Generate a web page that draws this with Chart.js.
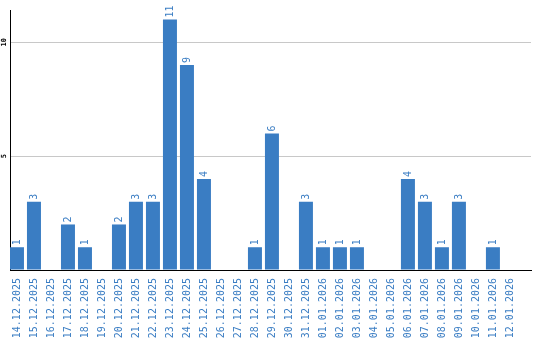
<!DOCTYPE html>
<html>
<head>
<meta charset="utf-8">
<script src="https://cdn.jsdelivr.net/npm/chart.js@4"></script>
<style>
html,body{margin:0;padding:0;background:#fff;}
#wrap{width:540px;height:340px;}
</style>
</head>
<body>
<div id="wrap"><canvas id="c" width="540" height="340"></canvas></div>
<script>
const categories = ["14.12.2025","15.12.2025","16.12.2025","17.12.2025","18.12.2025","19.12.2025","20.12.2025","21.12.2025","22.12.2025","23.12.2025","24.12.2025","25.12.2025","26.12.2025","27.12.2025","28.12.2025","29.12.2025","30.12.2025","31.12.2025","01.01.2026","02.01.2026","03.01.2026","04.01.2026","05.01.2026","06.01.2026","07.01.2026","08.01.2026","09.01.2026","10.01.2026","11.01.2026","12.01.2026"];
const values = [1,3,0,2,1,0,2,3,3,11,9,4,0,0,1,6,0,3,1,1,1,0,0,4,3,1,3,0,1,0];
const yTickValues = [5,10];

const BLUE = '#3a7dc3';

const valueLabels = {
  id: 'valueLabels',
  afterDatasetsDraw(chart) {
    const ctx = chart.ctx;
    const meta = chart.getDatasetMeta(0);
    ctx.save();
    ctx.font = '10px "DejaVu Sans Mono", monospace';
    ctx.fillStyle = BLUE;
    ctx.textAlign = 'left';
    ctx.textBaseline = 'middle';
    meta.data.forEach((bar, i) => {
      const v = values[i];
      if (!v) return;
      ctx.save();
      ctx.translate(bar.x, bar.y - 2);
      ctx.rotate(-Math.PI / 2);
      ctx.fillText(String(v), 0, 0);
      ctx.restore();
    });
    ctx.restore();
  }
};

new Chart(document.getElementById('c'), {
  type: 'bar',
  data: {
    datasets: [{
      data: values.map((v, i) => ({x: i, y: v})),
      backgroundColor: BLUE,
      borderWidth: 0,
      categoryPercentage: 1,
      barPercentage: 0.8235
    }]
  },
  options: {
    responsive: false,
    animation: false,
    devicePixelRatio: 1,
    layout: {padding: {top: 10, right: 9, left: 0, bottom: 0}},
    plugins: {legend: {display: false}, tooltip: {enabled: false}},
    scales: {
      x: {
        type: 'linear',
        offset: false,
        bounds: 'data',
        min: -0.41,
        max: 30.24,
        grid: {display: false},
        border: {display: true, color: '#000', width: 1},
        afterBuildTicks: (s) => { s.ticks = categories.map((_, i) => ({value: i})); },
        afterFit: (s) => { s.height = 70; s.paddingLeft = 0; s.paddingRight = 0; },
        ticks: {
          autoSkip: false,
          minRotation: 90,
          maxRotation: 90,
          padding: 0,
          color: BLUE,
          font: {family: '"DejaVu Sans Mono", monospace', size: 10},
          callback: (v) => categories[v] ?? ''
        }
      },
      y: {
        min: 0,
        max: 11.42,
        bounds: 'data',
        afterFit: (s) => { s.width = 10; },
        grid: {
          color: (c) => (c.tick && c.tick.value === 0) ? 'rgba(0,0,0,0)' : '#c8c8c8',
          lineWidth: 1,
          drawTicks: false
        },
        border: {display: true, color: '#000', width: 1},
        ticks: {
          stepSize: 5,
          includeBounds: false,
          minRotation: 90,
          maxRotation: 90,
          padding: 2,
          crossAlign: 'center',
          color: '#000',
          font: {family: '"DejaVu Sans Mono", monospace', size: 7, weight: 'bold'},
          callback: (v) => yTickValues.includes(v) ? String(v) : ''
        }
      }
    }
  },
  plugins: [valueLabels]
});
</script>
</body>
</html>
